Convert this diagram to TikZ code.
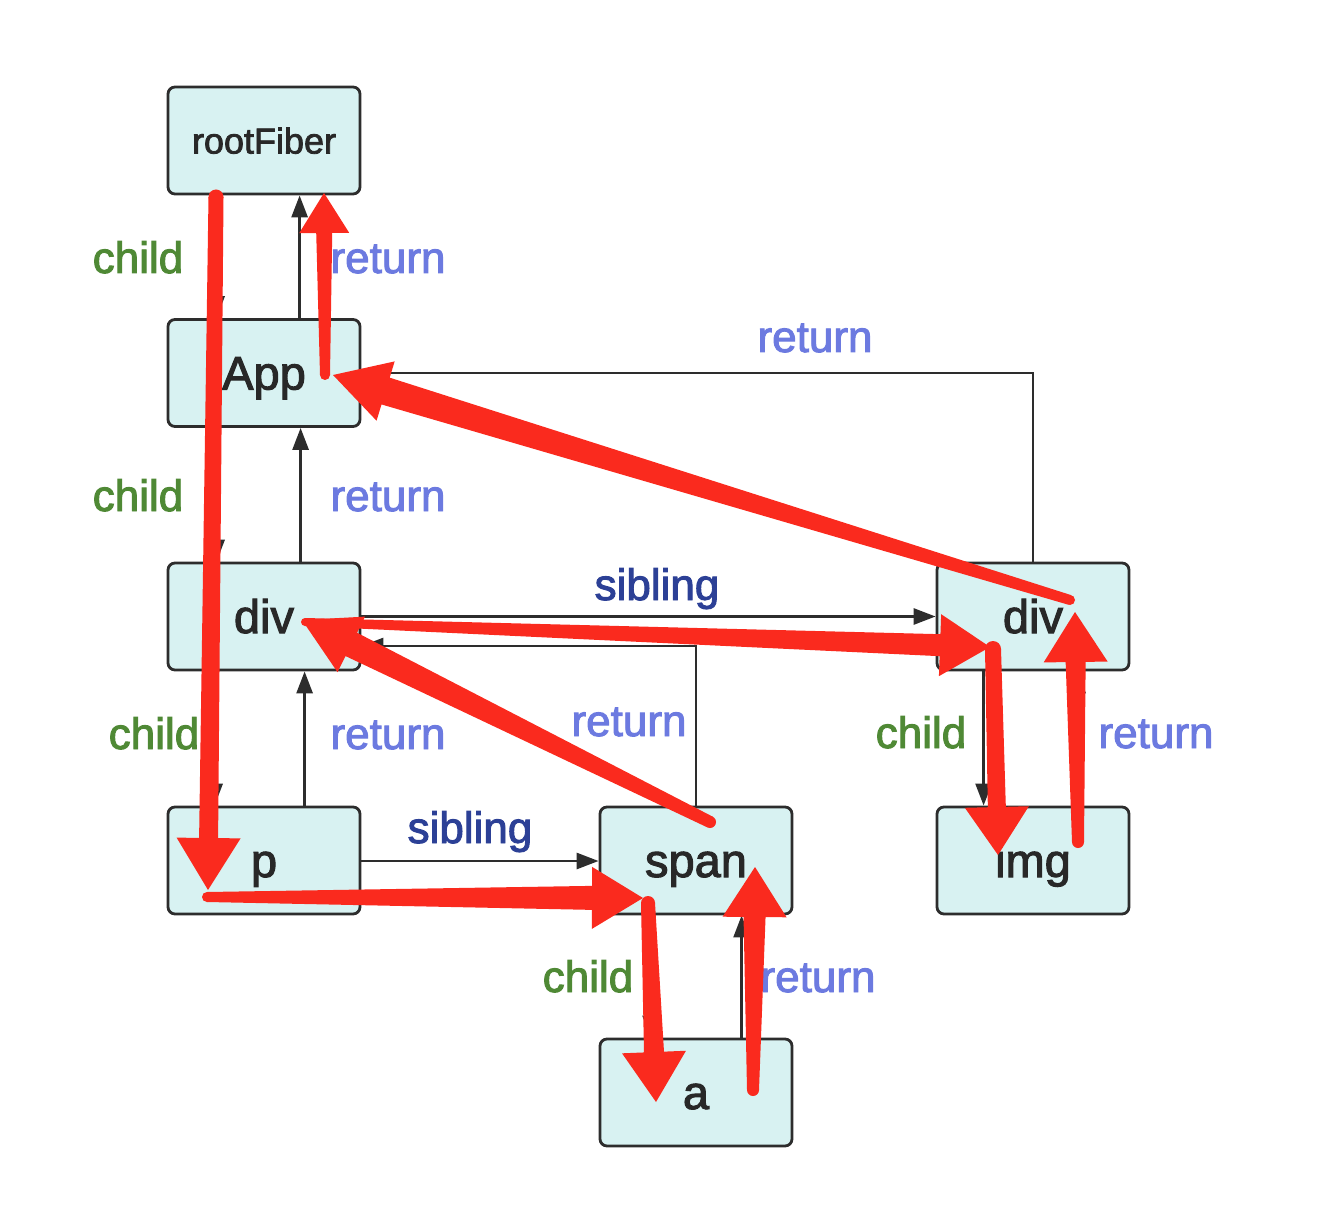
\documentclass[tikz,border=0pt]{standalone}
\usepackage{fontspec}
\setmainfont[FakeBold=2.2]{Liberation Sans}
\usetikzlibrary{arrows.meta,calc}
\definecolor{boxfill}{RGB}{216,242,242}
\definecolor{boxline}{RGB}{45,45,45}
\definecolor{textc}{RGB}{40,40,40}
\definecolor{childc}{RGB}{79,137,53}
\definecolor{retc}{RGB}{108,122,224}
\definecolor{sibc}{RGB}{44,64,150}
\definecolor{redc}{RGB}{250,42,30}
\newcommand\redarrow[6]{%
  \coordinate (rb) at ($(#2)!#5!(#1)$);
  \fill[redc] ($(#1)!#3!90:(rb)$) -- ($(rb)!#4!-90:(#1)$) -- ($(rb)!#6!-90:(#1)$) -- (#2)
     -- ($(rb)!#6!90:(#1)$) -- ($(rb)!#4!90:(#1)$) -- ($(#1)!#3!-90:(rb)$) -- cycle;
  \fill[redc] (#1) circle[radius=#3];
}
\begin{document}
\begin{tikzpicture}[x=1pt,y=-1pt,
  fbox/.style={draw=boxline, fill=boxfill, line width=2.8pt, rounded corners=7pt,
    minimum width=192pt, minimum height=107pt, text=textc,
    font=\fontsize{47}{50}\selectfont, text height=40pt, text depth=7pt, inner sep=0pt},
  conn/.style={draw=boxline, line width=2.8pt, -{Triangle[length=22pt,width=16pt]}},
  lbl/.style={anchor=base, font=\fontsize{44}{48}\selectfont},
  childlbl/.style={lbl, text=childc},
  retlbl/.style={lbl, text=retc},
  siblbl/.style={lbl, text=sibc}]
\useasboundingbox (0,0) rectangle (1320,1222);

% nodes
\node[fbox, font=\fontsize{36}{40}\selectfont, text height=31pt, text depth=5pt] (root) at (264,140.5) {rootFiber};
\node[fbox] (App)  at (264,373)    {App};
\node[fbox] (divL) at (264,616.5)  {div};
\node[fbox] (p)    at (264,860.5)  {p};
\node[fbox] (span) at (696,860.5)  {span};
\node[fbox] (a)    at (696,1092.5) {a};
\node[fbox] (divR) at (1033,616.5) {div};
\node[fbox] (img)  at (1033,860.5) {img};

% black connectors
\draw[conn] ($(root.south west)+(50,0)$) -- ($(App.north west)+(50,0)$);
\draw[conn] ($(App.north west)+(133,0)$) -- ($(root.south west)+(133,0)$);
\draw[conn] ($(App.south west)+(50,0)$) -- ($(divL.north west)+(50,0)$);
\draw[conn] ($(divL.north west)+(134,0)$) -- ($(App.south west)+(134,0)$);
\draw[conn] ($(divL.south west)+(48,0)$) -- ($(p.north west)+(48,0)$);
\draw[conn] ($(p.north west)+(138,0)$) -- ($(divL.south west)+(138,0)$);
\draw[conn] ($(p.east)+(0,0.5)$) -- ($(span.west)+(0,0.5)$);
\draw[conn] (divL.east) -- (divR.west);
\draw[conn] (span.north) |- ($(divL.east)+(0,29.5)$);
\draw[conn] (divR.north) |- (App.east);
\draw[conn] ($(divR.south west)+(48,0)$) -- ($(img.north west)+(48,0)$);
\draw[conn] ($(img.north west)+(142,0)$) -- ($(divR.south west)+(142,0)$);
\draw[conn] ($(span.south west)+(52,0)$) -- ($(a.north west)+(52,0)$);
\draw[conn] ($(a.north west)+(143,0)$) -- ($(span.south west)+(143,0)$);

% labels
\node[childlbl] (c1) at (138,273) {child};
\node[retlbl]   (r1) at (388,273) {return};
\node[childlbl] (c2) at (138,511) {child};
\node[retlbl]   (r2) at (388,511) {return};
\node[childlbl] (c3) at (154,749) {child};
\node[retlbl]   (r3) at (388,749) {return};
\node[siblbl]   (s1) at (657,600) {sibling};
\node[retlbl]   (r4) at (629,736) {return};
\node[siblbl]   (s2) at (470,843) {sibling};
\node[childlbl] (c4) at (921,748) {child};
\node[retlbl]   (r5) at (1156,748) {return};
\node[retlbl]   (r6) at (815,352) {return};
\node[childlbl] (c5) at (588,992) {child};
\node[retlbl]   (r7) at (818,992) {return};

% red traversal arrows
\coordinate (t1s) at (216,197);  \coordinate (t1e) at (208,890);
\coordinate (t2s) at (207,897);  \coordinate (t2e) at (643,898);
\coordinate (t3s) at (648,903);  \coordinate (t3e) at (656,1102);
\coordinate (t4s) at (753,1090); \coordinate (t4e) at (755,867);
\coordinate (t5s) at (710,822);  \coordinate (t5e) at (302,620);
\coordinate (t6s) at (305,622);  \coordinate (t6e) at (990,647);
\coordinate (t7s) at (993,649);  \coordinate (t7e) at (998,855);
\coordinate (t8s) at (1078,842); \coordinate (t8e) at (1075,612);
\coordinate (t9s) at (1070,600); \coordinate (t9e) at (333,375);
\coordinate (t10s) at (325,375); \coordinate (t10e) at (324,193);

\redarrow{t1s}{t1e}{7.5pt}{9.5pt}{52pt}{32pt}
\redarrow{t2s}{t2e}{5pt}{12pt}{51pt}{31pt}
\redarrow{t3s}{t3e}{7pt}{10pt}{50pt}{32pt}
\redarrow{t4s}{t4e}{6pt}{11pt}{50pt}{32pt}
\redarrow{t5s}{t5e}{6pt}{13pt}{55pt}{31pt}
\redarrow{t6s}{t6e}{4pt}{11pt}{50pt}{31pt}
\redarrow{t7s}{t7e}{8pt}{9pt}{48pt}{32pt}
\redarrow{t8s}{t8e}{6pt}{10pt}{50pt}{32pt}
\redarrow{t9s}{t9e}{5pt}{14pt}{55pt}{31pt}
\redarrow{t10s}{t10e}{5pt}{8pt}{40pt}{25pt}
\end{tikzpicture}
\end{document}
